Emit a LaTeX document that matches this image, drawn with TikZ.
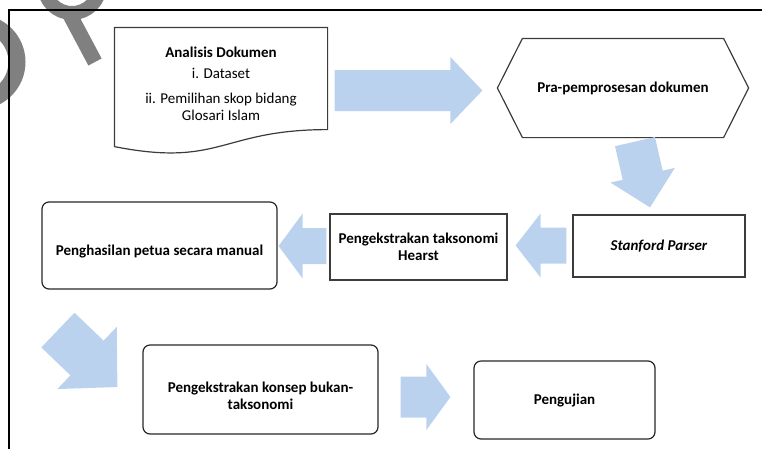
\documentclass[tikz,border=0pt]{standalone}
\usepackage{fontspec}
\setmainfont{Carlito}
\usetikzlibrary{calc}
\usetikzlibrary{positioning}
\definecolor{flowblue}{RGB}{187,210,238}
\definecolor{edgegray}{RGB}{60,60,60}
\definecolor{markgray}{RGB}{128,128,128}
\tikzset{box/.style = {draw=edgegray, line width=1.2pt, align=center,
                       font=\fontsize{15}{17.5}\selectfont\bfseries, inner sep=0pt},
         roundbox/.style = {box, draw=black!85, rounded corners=7pt}}
% block arrow: from, to, half shaft, head length, half head
\newcommand{\flowarrow}[5]{%
  \coordinate (fa-s) at (#1);
  \coordinate (fa-t) at (#2);
  \coordinate (fa-c) at ($(fa-t)!#4!(fa-s)$);
  \fill [flowblue] ($(fa-s)!#3!90:(fa-t)$) -- ($(fa-c)!#3!90:(fa-t)$) -- ($(fa-c)!#5!90:(fa-t)$) -- (fa-t)
        -- ($(fa-c)!#5!-90:(fa-t)$) -- ($(fa-c)!#3!-90:(fa-t)$) -- ($(fa-s)!#3!-90:(fa-t)$) -- cycle;}

\begin{document}
\begin{tikzpicture}[x=1pt, y=-1pt]
      \clip (0, 0) rectangle (762, 448);
      % faint mark in the corner
      \draw [markgray, line width=17pt] (-22, 62) circle (39);
      \draw [markgray, line width=14pt] (72, -15) circle (28);
      \draw [markgray, line width=15pt] (70, 15) -- (95, 62);
      \draw [line width=2pt] (9, 10) rectangle (800, 500);

      \node [box, draw=none, font=\fontsize{15}{17.5}\selectfont,
             minimum width=212, minimum height=112] (doc) at (221, 84)
            {\textbf{Analisis Dokumen}\\[4pt] i. Dataset\\[7pt] ii. Pemilihan skop bidang\\ Glosari Islam};
      \draw [edgegray, line width=1.2pt] (doc.north west) -- (doc.north east) -- ([yshift=11pt]doc.south east)
            .. controls ([yshift=11pt]doc.south) and ([yshift=-27pt]doc.south) .. ([yshift=-6pt]doc.south west) -- cycle;

      \node [box, draw=none, minimum width=200, minimum height=98] (hex) at (623, 88) {Pra-pemprosesan dokumen};
      \draw [edgegray, line width=1.2pt] (hex.north west) -- (hex.north east) -- ([xshift=25pt]hex.east)
            -- (hex.south east) -- (hex.south west) -- ([xshift=-25pt]hex.west) -- cycle;

      \node [box, minimum width=172, minimum height=62] (parser) at (659, 246) {\textit{Stanford Parser}};
      \node [box, minimum width=177, minimum height=66] (hearst) at (418.5, 247) {Pengekstrakan taksonomi\\ Hearst};
      \node [roundbox, minimum width=235, minimum height=87] (manual) at (159.5, 245.5)
            {\raisebox{-6pt}[\height][\depth]{Penghasilan petua secara manual}};
      \node [roundbox, minimum width=235, minimum height=89] (konsep) at (260.5, 389.5)
            {\raisebox{-8pt}[\height][\depth]{\begin{tabular}{@{}c@{}}Pengekstrakan konsep bukan-\\ taksonomi\end{tabular}}};
      \node [roundbox, minimum width=181, minimum height=78] (uji) at (564.5, 400) {Pengujian};

      \flowarrow{$(hex.west -| doc.east)+(7, 2.5)$}{$(hex.west)+(-40, 2.5)$}{20.5pt}{32pt}{33.5pt}
      \flowarrow{$(hex.south)+(12, 4)$}{$(parser.north)+(-9, -7)$}{20.5pt}{33pt}{33pt}
      \flowarrow{$(parser.west)+(-6, -0.5)$}{$(parser.west -| hearst.east)+(8, -0.5)$}{18pt}{25pt}{32pt}
      \flowarrow{$(hearst.west)+(-3, -1)$}{$(hearst.west -| manual.east)+(1, -1)$}{18pt}{24pt}{32.5pt}
      \flowarrow{$(manual.south west)+(16.5, 40.5)$}{$(konsep.west)+(-25, -2.5)$}{24pt}{42pt}{43pt}
      \flowarrow{$(uji.west -| konsep.east)+(22, -3)$}{$(uji.west)+(-23, -3)$}{20.5pt}{24pt}{33pt}
    \end{tikzpicture}
\end{document}
